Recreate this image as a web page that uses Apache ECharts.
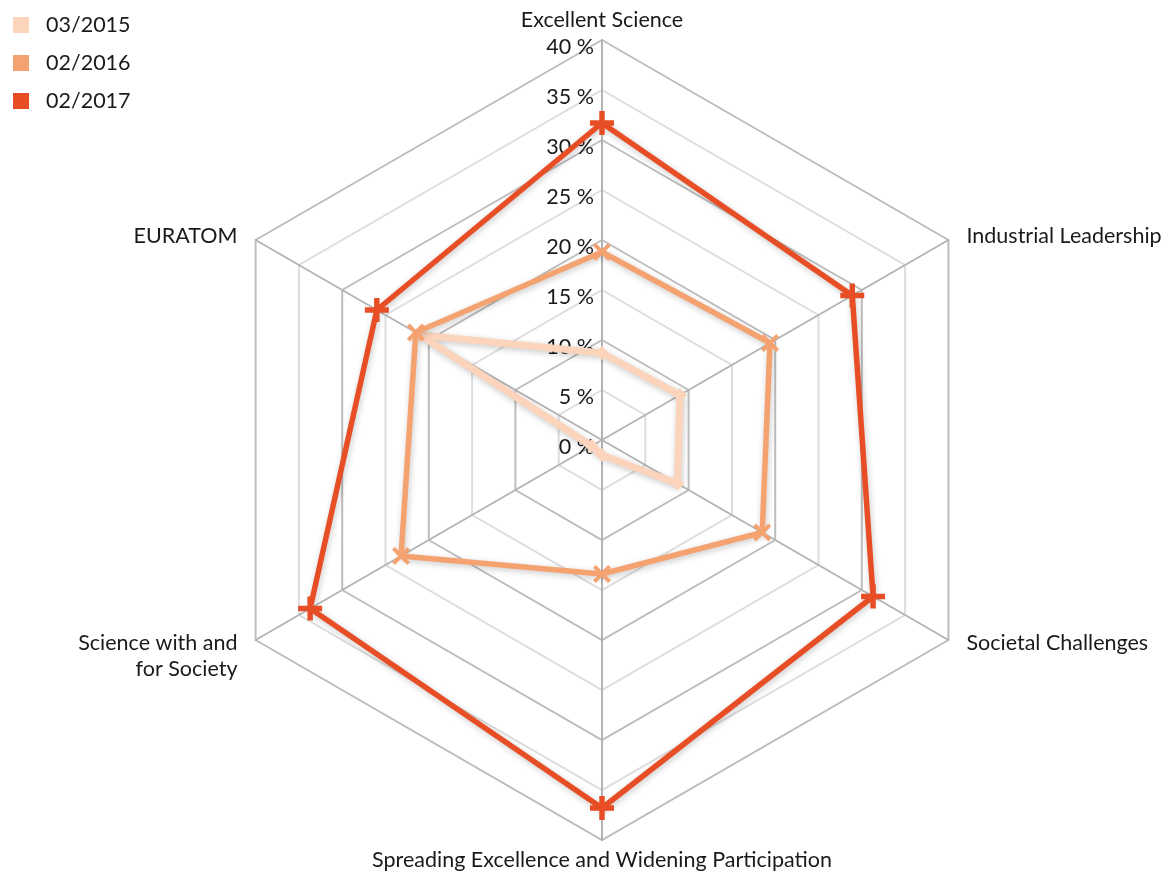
<!DOCTYPE html>
<html>
<head>
<meta charset="utf-8">
<script src="https://cdn.jsdelivr.net/npm/echarts@6/dist/echarts.min.js"></script>
<style>
html,body{margin:0;padding:0;background:#fff;}
#chart{width:1172px;height:872px;}
</style>
</head>
<body>
<div id="chart"></div>
<script>
// Indicators listed counter-clockwise starting at the top (ECharts radar order)
const categories = ['Excellent Science', 'EURATOM', 'Science with and\nfor Society',
  'Spreading Excellence and Widening Participation', 'Societal Challenges', 'Industrial Leadership'];
const seriesNames = ['03/2015', '02/2016', '02/2017'];
const values2015 = [8.7, 21.0, 1.2, 1.5, 8.7, 9.0];
const values2016 = [18.8, 21.5, 23.2, 13.4, 18.5, 19.4];
const values2017 = [31.7, 26.0, 33.7, 36.8, 31.3, 28.9];
const tickValues = [0, 5, 10, 15, 20, 25, 30, 35, 40];

const colors = ['#fcd4bc', '#f5a271', '#e84e25'];
const FONT = 'Lato';
const FS = 21.5;
const plusPath = 'path://M8.5,0H13.5V8.5H22V13.5H13.5V22H8.5V13.5H0V8.5H8.5Z';
const crossPath = 'path://M0,3.5L3.5,0L11,7.5L18.5,0L22,3.5L14.5,11L22,18.5L18.5,22L11,14.5L3.5,22L0,18.5L7.5,11Z';
const symbols = ['diamond', crossPath, plusPath];
const symbolSizes = [14, 18, 24];
const lineWidths = [7, 5.5, 5.5];
const allValues = [values2015, values2016, values2017];

const chart = echarts.init(document.getElementById('chart'));
chart.setOption({
  animation: false,
  textStyle: {fontFamily: FONT},
  legend: {
    orient: 'vertical', left: 8, top: 9,
    itemWidth: 16, itemHeight: 16, itemGap: 16,
    icon: 'rect',
    textStyle: {fontSize: FS, color: '#1a1a1a', fontFamily: FONT, padding: [0, 0, 0, 12]},
    data: seriesNames.map((n, i) => ({name: n, itemStyle: {color: colors[i]}}))
  },
  grid: {left: 602, top: 40, height: 400, width: 1, containLabel: false},
  xAxis: {type: 'value', show: false},
  yAxis: {
    type: 'value', min: 0, max: 40, interval: 5, position: 'left',
    axisLine: {show: false}, axisTick: {show: false}, splitLine: {show: false},
    axisLabel: {
      margin: 8, fontSize: FS, color: '#1a1a1a', fontFamily: FONT,
      verticalAlign: 'top', lineHeight: 14,
      formatter: v => tickValues.indexOf(v) >= 0 ? v + ' %' : ''
    }
  },
  radar: {
    center: [602, 440], radius: 400, shape: 'polygon',
    startAngle: 90, splitNumber: 8,
    indicator: categories.map(c => ({name: c, min: 0, max: 40})),
    axisName: {
      color: '#1a1a1a', fontSize: FS, fontFamily: FONT, padding: [0, 12, 0, 12], lineHeight: 26,
      formatter: name => name.indexOf('\n') >= 0 ? '\n' + name : name
    },
    nameGap: 7,
    axisLine: {lineStyle: {color: '#b4b4b4', width: 2}},
    splitLine: {lineStyle: {color: ['#bdbdbd', '#dddddd'], width: 2}},
    splitArea: {show: false}
  },
  series: [0, 1, 2].map(i => ({
    type: 'radar',
    name: seriesNames[i],
    z: 2 + i,
    symbol: symbols[i],
    symbolSize: symbolSizes[i],
    data: [{
      name: seriesNames[i],
      value: allValues[i],
      itemStyle: {color: colors[i]},
      lineStyle: {color: colors[i], width: lineWidths[i], shadowBlur: 6, shadowColor: 'rgba(0,0,0,0.22)', shadowOffsetX: 1, shadowOffsetY: 2}
    }]
  }))
});
</script>
</body>
</html>
